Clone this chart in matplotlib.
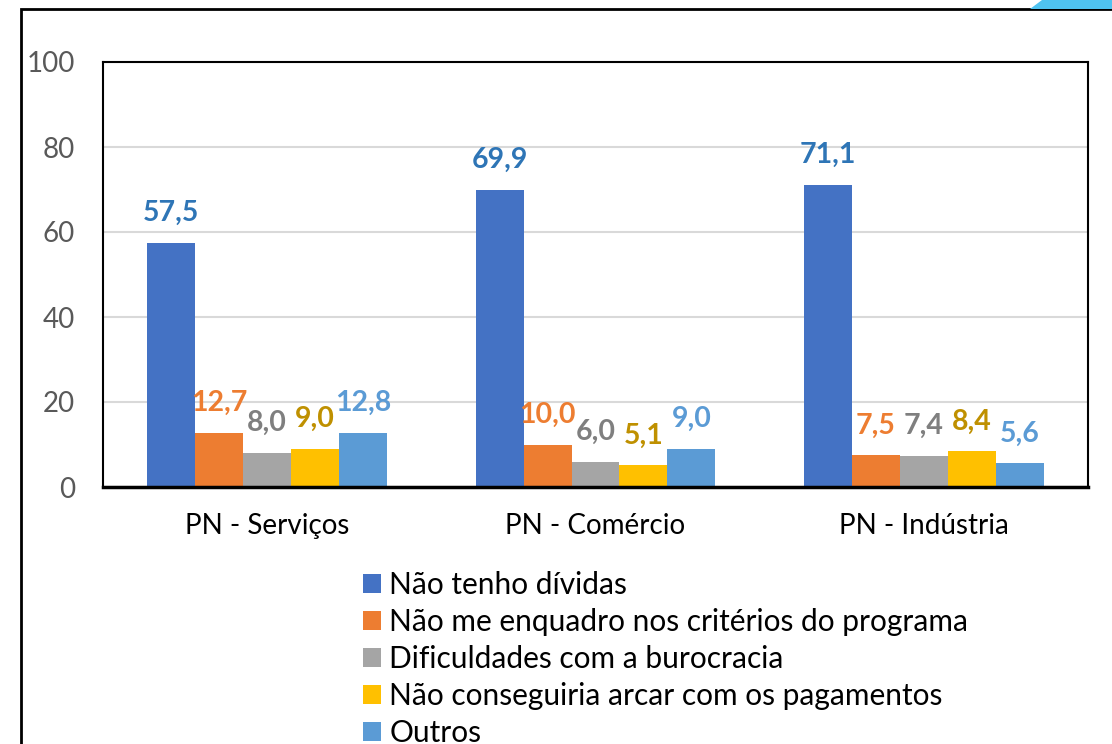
import numpy as np
import matplotlib.pyplot as plt
from matplotlib.patches import Rectangle, Polygon

# Categories and series values (percent)
categories = ['PN - Serviços', 'PN - Comércio', 'PN - Indústria']
series_names = [
    'Não tenho dívidas',
    'Não me enquadro nos critérios do programa',
    'Dificuldades com a burocracia',
    'Não conseguiria arcar com os pagamentos',
    'Outros',
]
nao_tenho = [57.5, 69.9, 71.1]
nao_enquadro = [12.7, 10.0, 7.5]
burocracia = [8.0, 6.0, 7.4]
pagamentos = [9.0, 5.1, 8.4]
outros = [12.8, 9.0, 5.6]
y_ticks = [0, 20, 40, 60, 80, 100]

values = [nao_tenho, nao_enquadro, burocracia, pagamentos, outros]
bar_colors = ['#4472C4', '#ED7D31', '#A5A5A5', '#FFC000', '#5B9BD5']
label_colors = ['#2E75B6', '#ED7D31', '#7F7F7F', '#BF9000', '#5B9BD5']

plt.rcParams['font.family'] = ['Lato', 'DejaVu Sans']

fig = plt.figure(figsize=(11.12, 7.44), dpi=100)
ax = fig.add_axes([103 / 1112, 1 - 487 / 744, 985 / 1112, 425 / 744])

x = np.arange(len(categories))
width = 0.146
for i, (vals, name) in enumerate(zip(values, series_names)):
    pos = x + (i - 2) * width
    bars = ax.bar(pos, vals, width, color=bar_colors[i], label=name, zorder=2)
    for b, v in zip(bars, vals):
        ax.annotate(f'{v:.1f}'.replace('.', ','),
                    (b.get_x() + b.get_width() / 2, v),
                    xytext=(0, 12), textcoords='offset points',
                    ha='center', va='bottom', fontsize=20.5, fontweight='bold',
                    color=label_colors[i])

ax.set_xlim(-0.5, 2.5)
ax.set_ylim(0, 100)
ax.set_yticks(y_ticks)
ax.set_xticks(x)
ax.set_xticklabels(categories)
ax.tick_params(axis='y', length=0, pad=20, labelsize=20, labelcolor='#595959')
ax.tick_params(axis='x', length=0, pad=19, labelsize=20, labelcolor='black')
ax.grid(axis='y', color='#D9D9D9', linewidth=1.5, zorder=0)
ax.set_axisbelow(True)
for side in ['left', 'top', 'right']:
    ax.spines[side].set_linewidth(1.5)
    ax.spines[side].set_color('black')
ax.spines['bottom'].set_linewidth(2.5)

leg = fig.legend(loc='upper left', bbox_to_anchor=(363 / 1112, 1 - 571 / 744),
                 frameon=False, fontsize=21.5, handlelength=0.6, handleheight=0.6,
                 handletextpad=0.28, labelspacing=0.3, borderaxespad=0,
                 borderpad=0)

# outer chart border and decorative corner shape
fig.patches.append(Rectangle((21 / 1112, -0.1), 1.2, 1.1 - 9 / 744,
                             transform=fig.transFigure, fill=False,
                             edgecolor='black', linewidth=2))
fig.patches.append(Polygon([(1030 / 1112, 1 - 9 / 744), (1042 / 1112, 1.0),
                            (1.0, 1.0), (1.0, 1 - 9 / 744)],
                           closed=True, transform=fig.transFigure,
                           facecolor='#4FC3F0', edgecolor='none'))

plt.savefig('out.png', dpi=100)
